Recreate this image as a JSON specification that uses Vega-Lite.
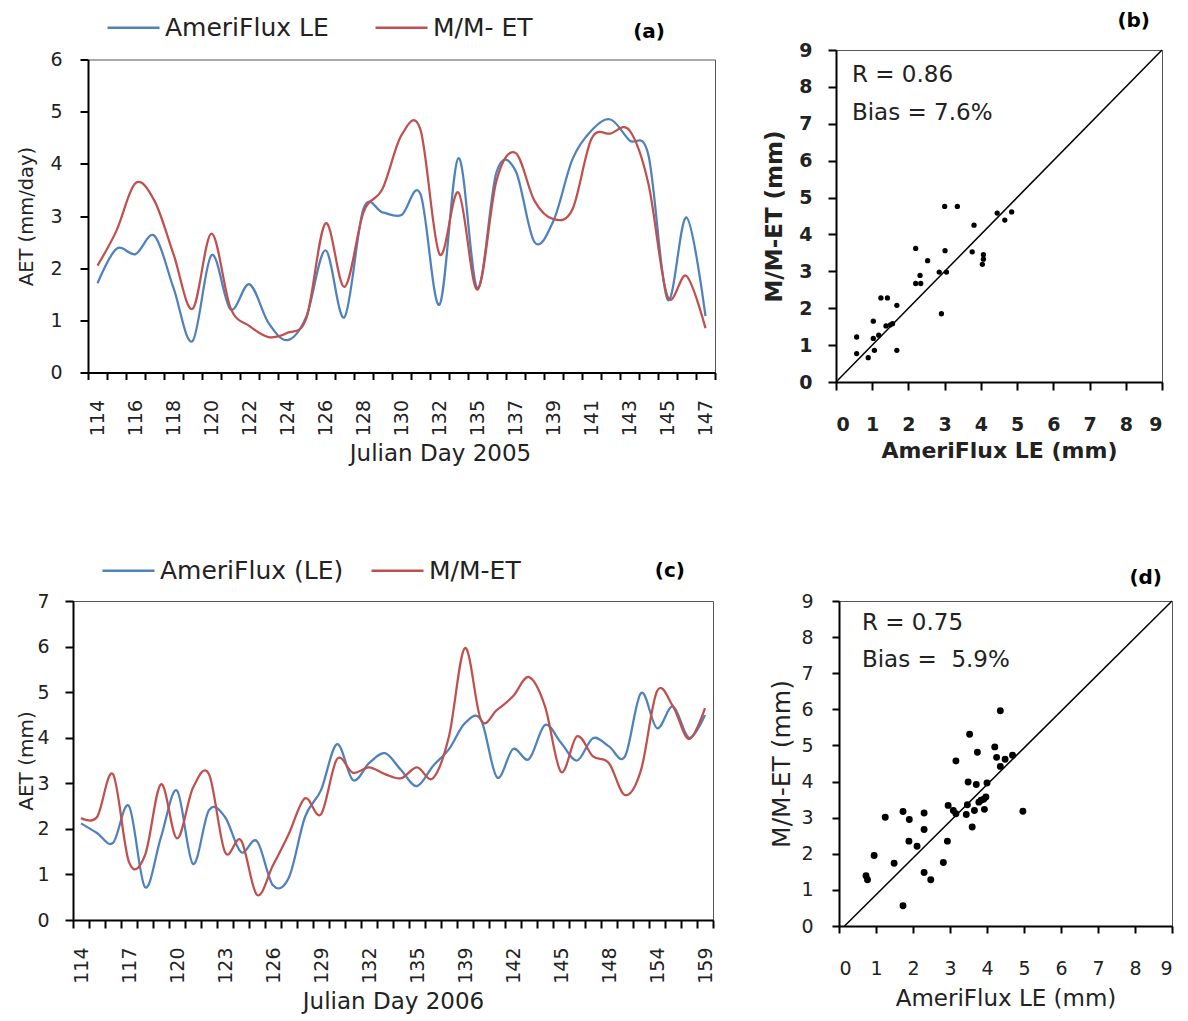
{
  "$schema": "https://vega.github.io/schema/vega-lite/v6.json",
  "padding": {"left": 16, "top": 0, "right": 0, "bottom": 0},
  "background": "white",
  "config": {
    "font": "DejaVu Sans",
    "view": {"stroke": "#555555", "strokeWidth": 1},
    "axis": {"domainColor": "#000000", "domainWidth": 2, "tickColor": "#000000", "tickWidth": 2, "tickSize": 8, "labelColor": "#222222", "titleColor": "#222222", "labelFontSize": 19, "titleFontSize": 23, "titleFontWeight": "normal", "grid": false, "labelOverlap": false, "labelFont": "DejaVu Sans", "titleFont": "DejaVu Sans"},
    "legend": {"labelColor": "#222222", "labelFontSize": 25, "padding": 0, "labelFont": "DejaVu Sans", "labelLimit": 0},
    "title": {"color": "#000000", "fontSize": 20, "fontWeight": "bold", "font": "DejaVu Sans"}
  },
  "datasets": {
    "ts2005": [
      {"day": "114", "series": "AmeriFlux LE", "aet": 1.71}, {"day": "115", "series": "AmeriFlux LE", "aet": 2.37}, {"day": "116", "series": "AmeriFlux LE", "aet": 2.27}, {"day": "117", "series": "AmeriFlux LE", "aet": 2.62}, {"day": "118", "series": "AmeriFlux LE", "aet": 1.62}, {"day": "119", "series": "AmeriFlux LE", "aet": 0.6}, {"day": "120", "series": "AmeriFlux LE", "aet": 2.25}, {"day": "121", "series": "AmeriFlux LE", "aet": 1.21}, {"day": "122", "series": "AmeriFlux LE", "aet": 1.69}, {"day": "123", "series": "AmeriFlux LE", "aet": 0.95}, {"day": "124", "series": "AmeriFlux LE", "aet": 0.62}, {"day": "125", "series": "AmeriFlux LE", "aet": 1.08}, {"day": "126", "series": "AmeriFlux LE", "aet": 2.34}, {"day": "127", "series": "AmeriFlux LE", "aet": 1.06}, {"day": "128", "series": "AmeriFlux LE", "aet": 3.14}, {"day": "129", "series": "AmeriFlux LE", "aet": 3.07}, {"day": "130", "series": "AmeriFlux LE", "aet": 3.02}, {"day": "131", "series": "AmeriFlux LE", "aet": 3.42}, {"day": "132", "series": "AmeriFlux LE", "aet": 1.3}, {"day": "134", "series": "AmeriFlux LE", "aet": 4.11}, {"day": "135", "series": "AmeriFlux LE", "aet": 1.62}, {"day": "136", "series": "AmeriFlux LE", "aet": 3.84}, {"day": "137", "series": "AmeriFlux LE", "aet": 3.87}, {"day": "138", "series": "AmeriFlux LE", "aet": 2.5}, {"day": "139", "series": "AmeriFlux LE", "aet": 2.91}, {"day": "140", "series": "AmeriFlux LE", "aet": 4.09}, {"day": "141", "series": "AmeriFlux LE", "aet": 4.64}, {"day": "142", "series": "AmeriFlux LE", "aet": 4.85}, {"day": "143", "series": "AmeriFlux LE", "aet": 4.45}, {"day": "144", "series": "AmeriFlux LE", "aet": 4.16}, {"day": "145", "series": "AmeriFlux LE", "aet": 1.4}, {"day": "146", "series": "AmeriFlux LE", "aet": 2.97}, {"day": "147", "series": "AmeriFlux LE", "aet": 1.08},
      {"day": "114", "series": "M/M- ET", "aet": 2.05}, {"day": "115", "series": "M/M- ET", "aet": 2.72}, {"day": "116", "series": "M/M- ET", "aet": 3.63}, {"day": "117", "series": "M/M- ET", "aet": 3.29}, {"day": "118", "series": "M/M- ET", "aet": 2.27}, {"day": "119", "series": "M/M- ET", "aet": 1.22}, {"day": "120", "series": "M/M- ET", "aet": 2.66}, {"day": "121", "series": "M/M- ET", "aet": 1.24}, {"day": "122", "series": "M/M- ET", "aet": 0.89}, {"day": "123", "series": "M/M- ET", "aet": 0.68}, {"day": "124", "series": "M/M- ET", "aet": 0.76}, {"day": "125", "series": "M/M- ET", "aet": 1.05}, {"day": "126", "series": "M/M- ET", "aet": 2.86}, {"day": "127", "series": "M/M- ET", "aet": 1.64}, {"day": "128", "series": "M/M- ET", "aet": 3.07}, {"day": "129", "series": "M/M- ET", "aet": 3.52}, {"day": "130", "series": "M/M- ET", "aet": 4.55}, {"day": "131", "series": "M/M- ET", "aet": 4.65}, {"day": "132", "series": "M/M- ET", "aet": 2.27}, {"day": "134", "series": "M/M- ET", "aet": 3.45}, {"day": "135", "series": "M/M- ET", "aet": 1.59}, {"day": "136", "series": "M/M- ET", "aet": 3.68}, {"day": "137", "series": "M/M- ET", "aet": 4.21}, {"day": "138", "series": "M/M- ET", "aet": 3.29}, {"day": "139", "series": "M/M- ET", "aet": 2.94}, {"day": "140", "series": "M/M- ET", "aet": 3.13}, {"day": "141", "series": "M/M- ET", "aet": 4.48}, {"day": "142", "series": "M/M- ET", "aet": 4.58}, {"day": "143", "series": "M/M- ET", "aet": 4.64}, {"day": "144", "series": "M/M- ET", "aet": 3.61}, {"day": "145", "series": "M/M- ET", "aet": 1.46}, {"day": "146", "series": "M/M- ET", "aet": 1.85}, {"day": "147", "series": "M/M- ET", "aet": 0.85}
    ],
    "ts2006": [
      {"day": "114", "series": "AmeriFlux (LE)", "aet": 2.12}, {"day": "115", "series": "AmeriFlux (LE)", "aet": 1.91}, {"day": "116", "series": "AmeriFlux (LE)", "aet": 1.69}, {"day": "117", "series": "AmeriFlux (LE)", "aet": 2.5}, {"day": "118", "series": "AmeriFlux (LE)", "aet": 0.72}, {"day": "119", "series": "AmeriFlux (LE)", "aet": 1.82}, {"day": "120", "series": "AmeriFlux (LE)", "aet": 2.84}, {"day": "121", "series": "AmeriFlux (LE)", "aet": 1.23}, {"day": "122", "series": "AmeriFlux (LE)", "aet": 2.41}, {"day": "123", "series": "AmeriFlux (LE)", "aet": 2.26}, {"day": "124", "series": "AmeriFlux (LE)", "aet": 1.49}, {"day": "125", "series": "AmeriFlux (LE)", "aet": 1.73}, {"day": "126", "series": "AmeriFlux (LE)", "aet": 0.76}, {"day": "127", "series": "AmeriFlux (LE)", "aet": 0.94}, {"day": "128", "series": "AmeriFlux (LE)", "aet": 2.26}, {"day": "129", "series": "AmeriFlux (LE)", "aet": 2.85}, {"day": "130", "series": "AmeriFlux (LE)", "aet": 3.86}, {"day": "131", "series": "AmeriFlux (LE)", "aet": 3.07}, {"day": "132", "series": "AmeriFlux (LE)", "aet": 3.44}, {"day": "133", "series": "AmeriFlux (LE)", "aet": 3.66}, {"day": "134", "series": "AmeriFlux (LE)", "aet": 3.29}, {"day": "135", "series": "AmeriFlux (LE)", "aet": 2.94}, {"day": "136", "series": "AmeriFlux (LE)", "aet": 3.38}, {"day": "138", "series": "AmeriFlux (LE)", "aet": 3.75}, {"day": "139", "series": "AmeriFlux (LE)", "aet": 4.32}, {"day": "140", "series": "AmeriFlux (LE)", "aet": 4.39}, {"day": "141", "series": "AmeriFlux (LE)", "aet": 3.13}, {"day": "142", "series": "AmeriFlux (LE)", "aet": 3.75}, {"day": "143", "series": "AmeriFlux (LE)", "aet": 3.53}, {"day": "144", "series": "AmeriFlux (LE)", "aet": 4.28}, {"day": "145", "series": "AmeriFlux (LE)", "aet": 3.89}, {"day": "146", "series": "AmeriFlux (LE)", "aet": 3.5}, {"day": "147", "series": "AmeriFlux (LE)", "aet": 3.99}, {"day": "148", "series": "AmeriFlux (LE)", "aet": 3.81}, {"day": "150", "series": "AmeriFlux (LE)", "aet": 3.59}, {"day": "152", "series": "AmeriFlux (LE)", "aet": 4.98}, {"day": "154", "series": "AmeriFlux (LE)", "aet": 4.21}, {"day": "156", "series": "AmeriFlux (LE)", "aet": 4.69}, {"day": "157", "series": "AmeriFlux (LE)", "aet": 4.0}, {"day": "159", "series": "AmeriFlux (LE)", "aet": 4.5},
      {"day": "114", "series": "M/M-ET", "aet": 2.24}, {"day": "115", "series": "M/M-ET", "aet": 2.26}, {"day": "116", "series": "M/M-ET", "aet": 3.2}, {"day": "117", "series": "M/M-ET", "aet": 1.27}, {"day": "118", "series": "M/M-ET", "aet": 1.42}, {"day": "119", "series": "M/M-ET", "aet": 2.98}, {"day": "120", "series": "M/M-ET", "aet": 1.79}, {"day": "121", "series": "M/M-ET", "aet": 2.9}, {"day": "122", "series": "M/M-ET", "aet": 3.2}, {"day": "123", "series": "M/M-ET", "aet": 1.49}, {"day": "124", "series": "M/M-ET", "aet": 1.75}, {"day": "125", "series": "M/M-ET", "aet": 0.55}, {"day": "126", "series": "M/M-ET", "aet": 1.2}, {"day": "127", "series": "M/M-ET", "aet": 1.9}, {"day": "128", "series": "M/M-ET", "aet": 2.67}, {"day": "129", "series": "M/M-ET", "aet": 2.32}, {"day": "130", "series": "M/M-ET", "aet": 3.53}, {"day": "131", "series": "M/M-ET", "aet": 3.23}, {"day": "132", "series": "M/M-ET", "aet": 3.35}, {"day": "133", "series": "M/M-ET", "aet": 3.2}, {"day": "134", "series": "M/M-ET", "aet": 3.11}, {"day": "135", "series": "M/M-ET", "aet": 3.35}, {"day": "136", "series": "M/M-ET", "aet": 3.11}, {"day": "138", "series": "M/M-ET", "aet": 4.03}, {"day": "139", "series": "M/M-ET", "aet": 5.97}, {"day": "140", "series": "M/M-ET", "aet": 4.39}, {"day": "141", "series": "M/M-ET", "aet": 4.61}, {"day": "142", "series": "M/M-ET", "aet": 4.91}, {"day": "143", "series": "M/M-ET", "aet": 5.33}, {"day": "144", "series": "M/M-ET", "aet": 4.69}, {"day": "145", "series": "M/M-ET", "aet": 3.25}, {"day": "146", "series": "M/M-ET", "aet": 4.03}, {"day": "147", "series": "M/M-ET", "aet": 3.59}, {"day": "148", "series": "M/M-ET", "aet": 3.44}, {"day": "150", "series": "M/M-ET", "aet": 2.74}, {"day": "152", "series": "M/M-ET", "aet": 3.29}, {"day": "154", "series": "M/M-ET", "aet": 5.02}, {"day": "156", "series": "M/M-ET", "aet": 4.69}, {"day": "157", "series": "M/M-ET", "aet": 3.97}, {"day": "159", "series": "M/M-ET", "aet": 4.65}
    ],
    "sc2005": [
      {"obs": 0.57, "mod": 1.22}, {"obs": 0.57, "mod": 0.77}, {"obs": 0.89, "mod": 0.66}, {"obs": 1.03, "mod": 1.65}, {"obs": 1.03, "mod": 1.18}, {"obs": 1.06, "mod": 0.86}, {"obs": 1.18, "mod": 1.27}, {"obs": 1.24, "mod": 2.28}, {"obs": 1.42, "mod": 2.28}, {"obs": 1.38, "mod": 1.52}, {"obs": 1.5, "mod": 1.55}, {"obs": 1.56, "mod": 1.58}, {"obs": 1.68, "mod": 2.08}, {"obs": 1.68, "mod": 0.86}, {"obs": 2.2, "mod": 3.62}, {"obs": 2.2, "mod": 2.67}, {"obs": 2.32, "mod": 2.89}, {"obs": 2.34, "mod": 2.67}, {"obs": 2.53, "mod": 3.29}, {"obs": 2.85, "mod": 2.98}, {"obs": 2.91, "mod": 1.85}, {"obs": 3.0, "mod": 4.76}, {"obs": 3.35, "mod": 4.76}, {"obs": 3.01, "mod": 3.56}, {"obs": 3.05, "mod": 2.98}, {"obs": 3.76, "mod": 3.53}, {"obs": 3.81, "mod": 4.25}, {"obs": 4.07, "mod": 3.45}, {"obs": 4.04, "mod": 3.19}, {"obs": 4.07, "mod": 3.33}, {"obs": 4.45, "mod": 4.58}, {"obs": 4.66, "mod": 4.39}, {"obs": 4.85, "mod": 4.61}
    ],
    "sc2006": [
      {"obs": 0.73, "mod": 1.39}, {"obs": 0.77, "mod": 1.28}, {"obs": 0.95, "mod": 1.95}, {"obs": 1.25, "mod": 3.01}, {"obs": 1.49, "mod": 1.74}, {"obs": 1.73, "mod": 3.17}, {"obs": 1.73, "mod": 0.56}, {"obs": 1.89, "mod": 2.35}, {"obs": 1.9, "mod": 2.95}, {"obs": 2.11, "mod": 2.21}, {"obs": 2.3, "mod": 3.13}, {"obs": 2.3, "mod": 2.67}, {"obs": 2.3, "mod": 1.48}, {"obs": 2.48, "mod": 1.28}, {"obs": 2.82, "mod": 1.76}, {"obs": 2.93, "mod": 2.35}, {"obs": 2.95, "mod": 3.34}, {"obs": 3.09, "mod": 3.2}, {"obs": 3.16, "mod": 4.57}, {"obs": 3.16, "mod": 3.11}, {"obs": 3.44, "mod": 3.09}, {"obs": 3.47, "mod": 3.36}, {"obs": 3.49, "mod": 3.99}, {"obs": 3.53, "mod": 5.31}, {"obs": 3.6, "mod": 2.74}, {"obs": 3.66, "mod": 3.2}, {"obs": 3.71, "mod": 3.92}, {"obs": 3.74, "mod": 4.81}, {"obs": 3.78, "mod": 3.43}, {"obs": 3.84, "mod": 3.48}, {"obs": 3.91, "mod": 3.51}, {"obs": 3.93, "mod": 3.23}, {"obs": 3.97, "mod": 3.57}, {"obs": 4.0, "mod": 3.96}, {"obs": 4.21, "mod": 4.96}, {"obs": 4.26, "mod": 4.67}, {"obs": 4.36, "mod": 5.96}, {"obs": 4.36, "mod": 4.42}, {"obs": 4.49, "mod": 4.62}, {"obs": 4.69, "mod": 4.73}, {"obs": 4.97, "mod": 3.18}
    ],
    "diag": [{"obs": 0, "mod": 0}, {"obs": 9, "mod": 9}],
    "diag2": [{"obs": 0.15, "mod": 0}, {"obs": 9, "mod": 9}],
    "one": [{"k": 1}],
    "none": []
  },
  "spacing": 76,
  "resolve": {"scale": {"color": "independent"}, "legend": {"color": "independent"}},
  "vconcat": [
    {
      "hconcat": [
        {
          "width": 15, "height": 1,
          "view": {"stroke": null},
          "data": {"name": "none"},
          "mark": {"type": "point", "opacity": 0},
          "encoding": {}
        },
        {
          "hconcat": [
            {
              "width": 627, "height": 313,
              "data": {"name": "ts2005"},
              "title": {"text": "(a)", "anchor": "end", "frame": "group", "dx": -50, "offset": -7, "baseline": "alphabetic"},
              "mark": {"type": "line", "interpolate": "cardinal", "strokeWidth": 2.25},
              "encoding": {
                "x": {"field": "day", "type": "ordinal", "scale": {"type": "band", "paddingInner": 0, "paddingOuter": 0}, "bandPosition": 0.5,
                  "axis": {"title": "Julian Day 2005", "titleX": 352, "labelAngle": 270, "tickBand": "extent", "tickSize": 7, "labelPadding": 20, "titlePadding": 7,
                    "labelExpr": "indexof(['114','116','118','120','122','124','126','128','130','132','135','137','139','141','143','145','147'], datum.value) >= 0 ? datum.label : ''"}},
                "y": {"field": "aet", "type": "quantitative", "scale": {"domain": [0, 6], "nice": false},
                  "axis": {"title": "AET (mm/day)", "titleFontSize": 19.5, "values": [0, 1, 2, 3, 4, 5, 6], "labelPadding": 18, "titlePadding": 13}},
                "color": {"field": "series", "type": "nominal", "scale": {"domain": ["AmeriFlux LE", "M/M- ET"], "range": ["#4F81BD", "#C0504D"]},
                  "legend": {"orient": "none", "legendX": 33, "legendY": -50, "direction": "horizontal", "title": null, "symbolType": "stroke", "symbolSize": 2704, "symbolStrokeWidth": 2.5, "labelOffset": 4, "columnPadding": 41}}
              }
            },
            {
              "width": 326, "height": 332,
              "title": {"text": "(b)", "anchor": "end", "frame": "group", "dx": -12, "offset": -6, "baseline": "alphabetic"},
              "layer": [
                {
                  "data": {"name": "diag"},
                  "mark": {"type": "line", "color": "#000000", "strokeWidth": 1.5},
                  "encoding": {
                    "x": {"field": "obs", "type": "quantitative", "scale": {"domain": [0, 9], "nice": false},
                      "axis": {"title": "AmeriFlux LE (mm)", "values": [0, 1, 2, 3, 4, 5, 6, 7, 8, 9], "labelFontWeight": "bold", "titleFontWeight": "bold", "labelPadding": 25, "titlePadding": 6, "titleFontSize": 22}},
                    "y": {"field": "mod", "type": "quantitative", "scale": {"domain": [0, 9], "nice": false},
                      "axis": {"title": "M/M-ET (mm)", "values": [0, 1, 2, 3, 4, 5, 6, 7, 8, 9], "labelFontWeight": "bold", "titleFontWeight": "bold", "labelPadding": 16, "titlePadding": 12, "titleFontSize": 23}}
                  }
                },
                {
                  "data": {"name": "sc2005"},
                  "mark": {"type": "circle", "color": "#000000", "size": 28, "opacity": 1},
                  "encoding": {
                    "x": {"field": "obs", "type": "quantitative", "scale": {"domain": [0, 9], "nice": false},
                      "axis": {"title": "AmeriFlux LE (mm)", "values": [0, 1, 2, 3, 4, 5, 6, 7, 8, 9], "labelFontWeight": "bold", "titleFontWeight": "bold", "labelPadding": 25, "titlePadding": 6, "titleFontSize": 22}},
                    "y": {"field": "mod", "type": "quantitative", "scale": {"domain": [0, 9], "nice": false},
                      "axis": {"title": "M/M-ET (mm)", "values": [0, 1, 2, 3, 4, 5, 6, 7, 8, 9], "labelFontWeight": "bold", "titleFontWeight": "bold", "labelPadding": 16, "titlePadding": 12, "titleFontSize": 23}}
                  }
                },
                {
                  "data": {"name": "one"},
                  "mark": {"type": "text", "align": "left", "baseline": "middle", "fontSize": 23, "color": "#222222"},
                  "encoding": {
                    "x": {"datum": 0.44, "type": "quantitative", "axis": {"title": "AmeriFlux LE (mm)", "values": [0, 1, 2, 3, 4, 5, 6, 7, 8, 9], "labelFontWeight": "bold", "titleFontWeight": "bold", "labelPadding": 25, "titlePadding": 6, "titleFontSize": 22}},
                    "y": {"datum": 8.32, "type": "quantitative", "axis": {"title": "M/M-ET (mm)", "values": [0, 1, 2, 3, 4, 5, 6, 7, 8, 9], "labelFontWeight": "bold", "titleFontWeight": "bold", "labelPadding": 16, "titlePadding": 12, "titleFontSize": 23}},
                    "text": {"value": "R = 0.86"}}
                },
                {
                  "data": {"name": "one"},
                  "mark": {"type": "text", "align": "left", "baseline": "middle", "fontSize": 23, "color": "#222222"},
                  "encoding": {
                    "x": {"datum": 0.44, "type": "quantitative", "axis": {"title": "AmeriFlux LE (mm)", "values": [0, 1, 2, 3, 4, 5, 6, 7, 8, 9], "labelFontWeight": "bold", "titleFontWeight": "bold", "labelPadding": 25, "titlePadding": 6, "titleFontSize": 22}},
                    "y": {"datum": 7.29, "type": "quantitative", "axis": {"title": "M/M-ET (mm)", "values": [0, 1, 2, 3, 4, 5, 6, 7, 8, 9], "labelFontWeight": "bold", "titleFontWeight": "bold", "labelPadding": 16, "titlePadding": 12, "titleFontSize": 23}},
                    "text": {"value": "Bias = 7.6%"}}
                }
              ]
            }
          ],
          "spacing": 121,
          "bounds": "flush",
          "center": true
        }
      ],
      "spacing": 0,
      "bounds": "flush"
    },
    {
      "hconcat": [
        {
          "width": 640, "height": 319,
          "data": {"name": "ts2006"},
          "title": {"text": "(c)", "anchor": "end", "frame": "group", "dx": -28, "offset": -5, "baseline": "alphabetic"},
          "mark": {"type": "line", "interpolate": "cardinal", "strokeWidth": 2.25},
          "encoding": {
            "x": {"field": "day", "type": "ordinal", "scale": {"type": "band", "paddingInner": 0, "paddingOuter": 0}, "bandPosition": 0.5,
              "axis": {"title": "Julian Day 2006", "labelAngle": 270, "tickBand": "extent", "tickSize": 8, "labelPadding": 19, "titlePadding": 7,
                "labelExpr": "indexof(['114','117','120','123','126','129','132','135','139','142','145','148','154','159'], datum.value) >= 0 ? datum.label : ''"}},
            "y": {"field": "aet", "type": "quantitative", "scale": {"domain": [0, 7], "nice": false},
              "axis": {"title": "AET (mm)", "titleFontSize": 20, "values": [0, 1, 2, 3, 4, 5, 6, 7], "labelPadding": 16, "titlePadding": 0}},
            "color": {"field": "series", "type": "nominal", "scale": {"domain": ["AmeriFlux (LE)", "M/M-ET"], "range": ["#4F81BD", "#C0504D"]},
              "legend": {"orient": "none", "legendX": 28, "legendY": -58, "direction": "horizontal", "title": null, "symbolType": "stroke", "symbolSize": 2704, "symbolStrokeWidth": 2.5, "labelOffset": 4, "columnPadding": 22}}
          }
        },
        {
          "width": 333, "height": 325,
          "title": {"text": "(d)", "anchor": "end", "frame": "group", "dx": -10, "offset": -12, "baseline": "alphabetic"},
          "layer": [
            {
              "data": {"name": "diag2"},
              "mark": {"type": "line", "color": "#000000", "strokeWidth": 1.5},
              "encoding": {
                "x": {"field": "obs", "type": "quantitative", "scale": {"domain": [0, 9], "nice": false},
                  "axis": {"title": "AmeriFlux LE (mm)", "values": [0, 1, 2, 3, 4, 5, 6, 7, 8, 9], "tickSize": 7, "labelPadding": 26, "titlePadding": 9}},
                "y": {"field": "mod", "type": "quantitative", "scale": {"domain": [0, 9], "nice": false},
                  "axis": {"title": "M/M-ET (mm)", "titleFontSize": 25, "values": [0, 1, 2, 3, 4, 5, 6, 7, 8, 9], "tickSize": 7, "labelPadding": 19, "titlePadding": 6}}
              }
            },
            {
              "data": {"name": "sc2006"},
              "mark": {"type": "circle", "color": "#000000", "size": 48, "opacity": 1},
              "encoding": {
                "x": {"field": "obs", "type": "quantitative", "scale": {"domain": [0, 9], "nice": false},
                  "axis": {"title": "AmeriFlux LE (mm)", "values": [0, 1, 2, 3, 4, 5, 6, 7, 8, 9], "tickSize": 7, "labelPadding": 26, "titlePadding": 9}},
                "y": {"field": "mod", "type": "quantitative", "scale": {"domain": [0, 9], "nice": false},
                  "axis": {"title": "M/M-ET (mm)", "titleFontSize": 25, "values": [0, 1, 2, 3, 4, 5, 6, 7, 8, 9], "tickSize": 7, "labelPadding": 19, "titlePadding": 6}}
              }
            },
            {
              "data": {"name": "one"},
              "mark": {"type": "text", "align": "left", "baseline": "middle", "fontSize": 23, "color": "#222222"},
              "encoding": {
                "x": {"datum": 0.62, "type": "quantitative", "axis": {"title": "AmeriFlux LE (mm)", "values": [0, 1, 2, 3, 4, 5, 6, 7, 8, 9], "tickSize": 7, "labelPadding": 26, "titlePadding": 9}},
                "y": {"datum": 8.39, "type": "quantitative", "axis": {"title": "M/M-ET (mm)", "titleFontSize": 25, "values": [0, 1, 2, 3, 4, 5, 6, 7, 8, 9], "tickSize": 7, "labelPadding": 19, "titlePadding": 6}},
                "text": {"value": "R = 0.75"}}
            },
            {
              "data": {"name": "one"},
              "mark": {"type": "text", "align": "left", "baseline": "middle", "fontSize": 23, "color": "#222222"},
              "encoding": {
                "x": {"datum": 0.62, "type": "quantitative", "axis": {"title": "AmeriFlux LE (mm)", "values": [0, 1, 2, 3, 4, 5, 6, 7, 8, 9], "tickSize": 7, "labelPadding": 26, "titlePadding": 9}},
                "y": {"datum": 7.37, "type": "quantitative", "axis": {"title": "M/M-ET (mm)", "titleFontSize": 25, "values": [0, 1, 2, 3, 4, 5, 6, 7, 8, 9], "tickSize": 7, "labelPadding": 19, "titlePadding": 6}},
                "text": {"value": "Bias = \u00a05.9%"}}
            }
          ]
        }
      ],
      "spacing": 126,
      "bounds": "flush"
    }
  ]
}
